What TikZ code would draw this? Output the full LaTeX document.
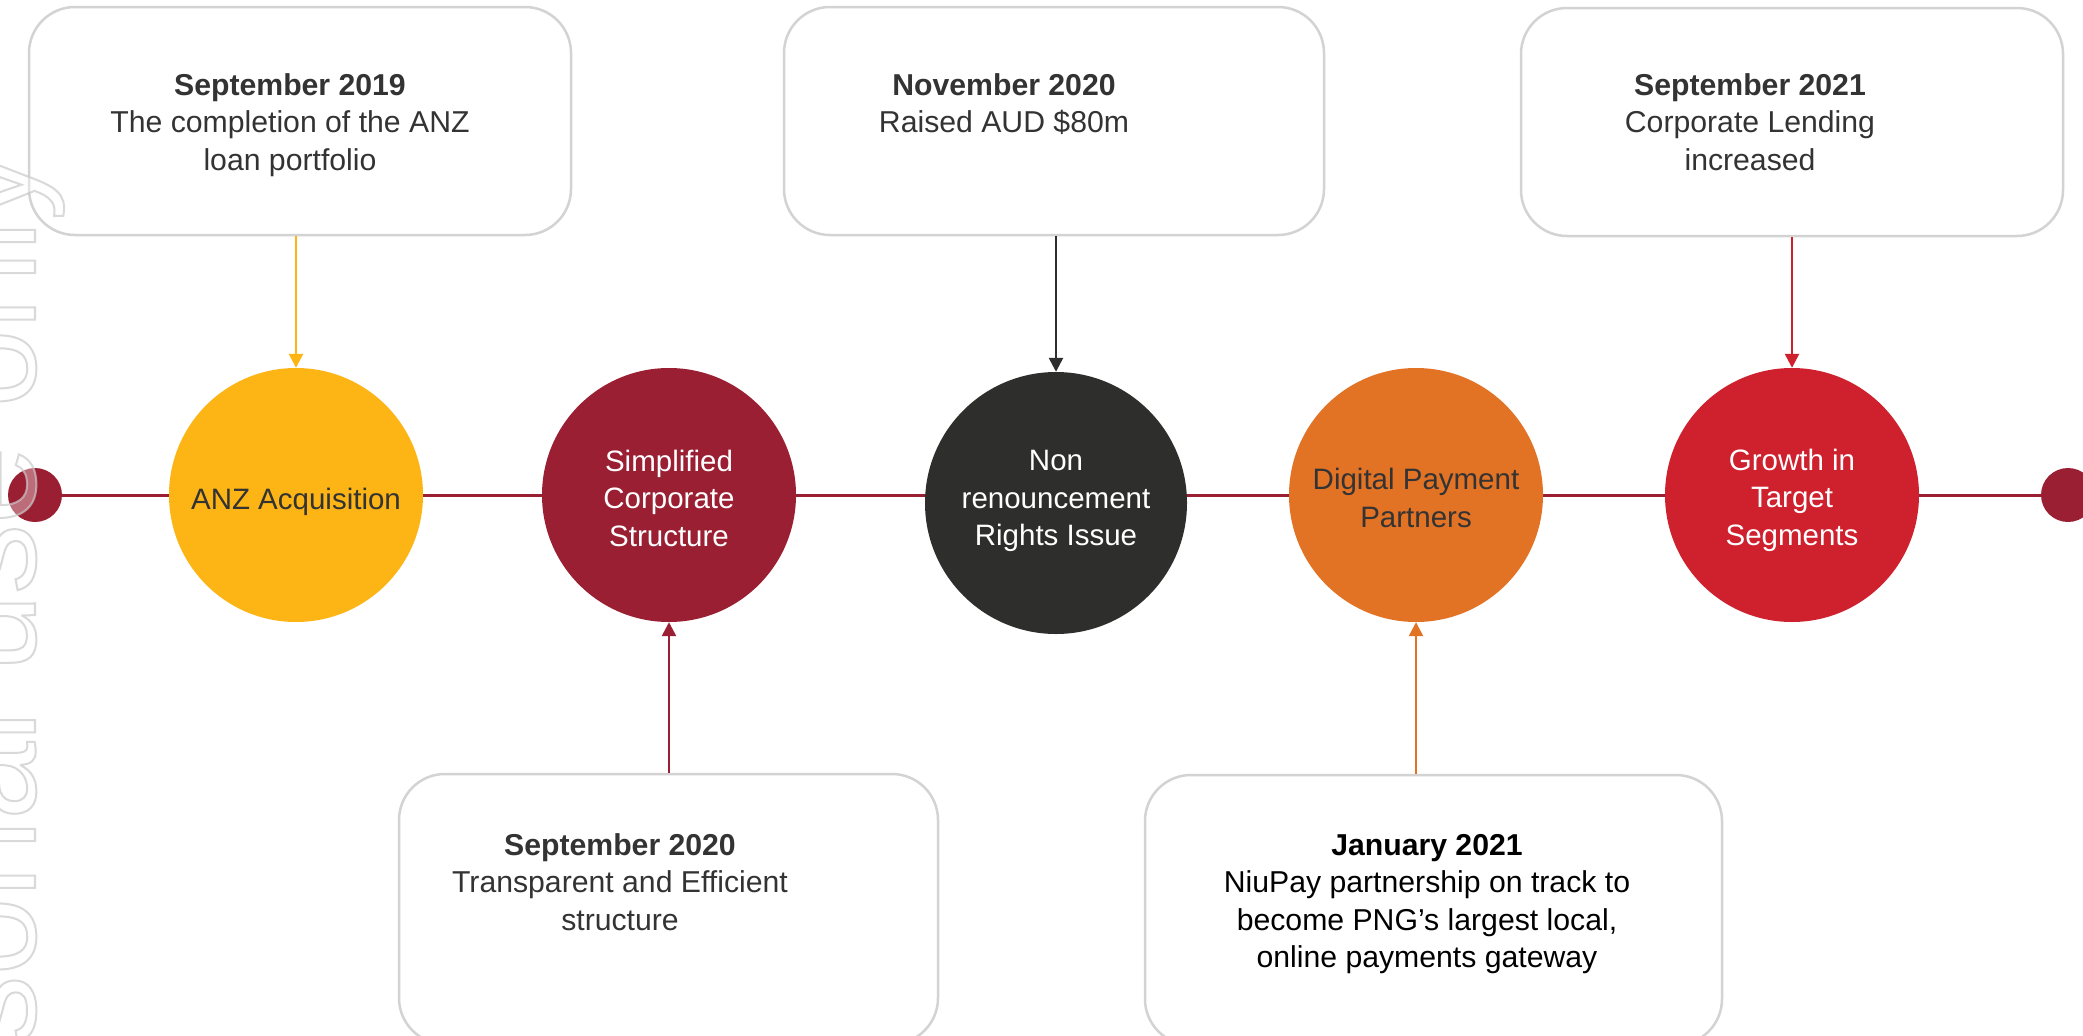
\documentclass[tikz,border=0pt]{standalone}
\usepackage{fontspec}
\setmainfont{Liberation Sans}
\usetikzlibrary{arrows.meta}

\definecolor{cYellow}{HTML}{FDB515}
\definecolor{cMaroon}{HTML}{9A1F33}
\definecolor{cDark}{HTML}{2E2E2C}
\definecolor{cOrange}{HTML}{E27325}
\definecolor{cRed}{HTML}{CF202E}
\definecolor{cBorder}{HTML}{D3D3D3}
\definecolor{cText}{HTML}{333333}
\definecolor{cMark}{HTML}{C9C9C9}

\newcommand{\evfont}{\fontsize{29.5}{37.5}\selectfont}
\newcommand{\cardfont}{\fontsize{30.2}{37.5}\selectfont}
\newcommand{\markfont}{\fontsize{140}{140}\selectfont}
% outlined (stroke-only) text
\newcommand{\outlined}[1]{\special{pdf:literal direct 1 Tr 2 w}#1\special{pdf:literal direct 0 Tr}}

\begin{document}
\begin{tikzpicture}[x=1pt, y=-1pt,
  event/.style={circle, minimum size=254pt, inner sep=0pt},
  evtext/.style={align=center, font=\evfont, inner sep=0pt},
  card/.style={draw=cBorder, line width=2.5pt, rounded corners=46pt, inner sep=0pt},
  cardtext/.style={align=center, font=\cardfont, text=cText, inner sep=0pt},
  tick/.style={line width=2.5pt, -{Triangle[width=14pt,length=14pt]}},
  enddot/.style={circle, fill=cMaroon, minimum size=54pt, inner sep=0pt},
  wmark/.style={rotate=90, anchor=base east, inner sep=0pt, font=\markfont}
]
\clip (0,0) rectangle (2083,1036);
\fill[white] (0,0) rectangle (2083,1036);

% timeline ends and axis
\node[enddot] (d0) at (35,495) {};
\node[enddot] (d1) at (2068,495) {};
\draw[cMaroon, line width=3pt] (d0) -- (d1);

% milestones on the axis
\node[event, fill=cYellow] (c1) at (296,495) {};
\node[event, fill=cMaroon] (c2) at (669,495) {};
\node[event, fill=cDark, minimum size=262pt] (c3) at (1056,503) {};
\node[event, fill=cOrange] (c4) at (1416,495) {};
\node[event, fill=cRed] (c5) at (1792,495) {};

\node[evtext, text=cText] (l1) at ([yshift=-7]c1.center) {ANZ Acquisition};
\node[evtext, text=white] (l2) at ([yshift=-3]c2.center) {Simplified\\Corporate\\Structure};
\node[evtext, text=white] (l3) at ([yshift=2]c3.center) {Non\\renouncement\\Rights Issue};
\node[evtext, text=cText] (l4) at ([yshift=-3]c4.center) {Digital Payment\\Partners};
\node[evtext, text=white] (l5) at ([yshift=-5]c5.center) {Growth in\\Target\\Segments};

% date cards
\node[card, minimum width=542pt, minimum height=228pt] (b1) at (300,121) {};
\node[card, minimum width=540pt, minimum height=228pt] (b2) at (1054,121) {};
\node[card, minimum width=542pt, minimum height=228pt] (b3) at (1792,122) {};
\node[card, minimum width=539pt, minimum height=270pt] (b4) at (668.5,909) {};
\node[card, minimum width=577pt, minimum height=270pt] (b5) at (1433.5,910) {};

\node[cardtext] (t1) at (290,125) {\textbf{September 2019}\\The completion of the ANZ\\loan portfolio};
\node[cardtext] (t2) at (1004,104) {\textbf{November 2020}\\Raised AUD \$80m};
\node[cardtext] (t3) at (1750,122) {\textbf{September 2021}\\Corporate Lending\\increased};
\node[cardtext] (t4) at (620,882) {\textbf{September 2020}\\Transparent and Efficient\\structure};
\node[cardtext, text=black] (t5) at (1427,904) {\textbf{January 2021}\\NiuPay partnership on track to\\become PNG’s largest local,\\online payments gateway};

% connectors from cards to milestones
\draw[tick, cYellow] (b1.south -| c1) -- (c1.north);
\draw[tick, cDark] (b2.south -| c3) -- (c3.north);
\draw[tick, cRed] (b3.south -| c5) -- (c5.north);
\draw[tick, cMaroon] (b4.north -| c2) -- (c2.south);
\draw[tick, cOrange] (b5.north -| c4) -- (c4.south);

% vertical watermark along the left edge
\node[wmark, text=white, opacity=0.35] (wmfill) at (35,150) {For personal use only};
\node[wmark, text=cMark, opacity=0.7] (wm) at (35,150) {\outlined{For personal use only}};
\end{tikzpicture}
\end{document}
